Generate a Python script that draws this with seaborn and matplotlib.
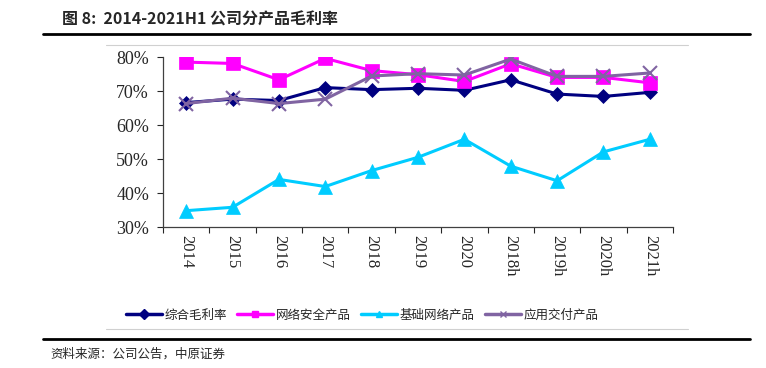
import numpy as np
import pandas as pd
import matplotlib
matplotlib.use("Agg")
import matplotlib.pyplot as plt
import seaborn as sns
from matplotlib.lines import Line2D

# data
periods = ["2014", "2015", "2016", "2017", "2018", "2019", "2020",
           "2018h", "2019h", "2020h", "2021h"]
overall = [66.6, 67.6, 67.2, 71.0, 70.4, 70.8, 70.2, 73.3, 69.1, 68.4, 69.6]
security = [78.5, 78.1, 73.3, 79.6, 76.0, 74.8, 72.8, 78.0, 74.0, 74.0, 72.4]
network = [34.8, 35.8, 44.0, 41.9, 46.6, 50.5, 55.8, 47.9, 43.6, 52.1, 55.8]
delivery = [66.3, 67.9, 66.3, 67.6, 74.4, 75.1, 74.7, 79.4, 74.3, 74.3, 75.3]

names = ["综合毛利率", "网络安全产品", "基础网络产品", "应用交付产品"]
series = [overall, security, network, delivery]

df = pd.DataFrame({
    "x": np.tile(np.arange(len(periods)), len(names)),
    "value": np.concatenate(series) / 100,
    "name": np.repeat(names, len(periods)),
})

colors = {"综合毛利率": "#000080", "网络安全产品": "#FF00FF",
          "基础网络产品": "#00CCFF", "应用交付产品": "#8064A2"}
markers = {"综合毛利率": "D", "网络安全产品": "s",
           "基础网络产品": "^", "应用交付产品": "x"}
msizes = {"综合毛利率": 7, "网络安全产品": 10, "基础网络产品": 10, "应用交付产品": 10}

sns.set_theme(style="white")
plt.rcParams["font.family"] = ["Noto Sans CJK SC", "DejaVu Sans"]

fig = plt.figure(figsize=(7.66, 3.68), dpi=100)
ax = fig.add_axes([163 / 766, 1 - 227 / 368, 510 / 766, 170 / 368])

for name in names:
    sub = df[df["name"] == name]
    sns.lineplot(data=sub, x="x", y="value", color=colors[name], marker=markers[name],
                 markersize=msizes[name], markeredgecolor=colors[name],
                 markeredgewidth=1.5 if name == "应用交付产品" else 0.5,
                 linewidth=2.2, ax=ax, legend=False)

ax.set_xlim(-0.5, len(periods) - 0.5)
ax.set_ylim(0.3, 0.8)
ax.set_yticks([0.3, 0.4, 0.5, 0.6, 0.7, 0.8])
ax.set_yticklabels([f"{v}%" for v in range(30, 90, 10)],
                   fontfamily="Liberation Serif", fontsize=13)
ax.set_xticks(np.arange(len(periods)))
ax.set_xticklabels(periods, rotation=-90, fontfamily="Liberation Serif", fontsize=12)
ax.set_xticks(np.arange(len(periods) + 1) - 0.5, minor=True)
ax.tick_params(axis="x", which="major", length=0, pad=6)
ax.tick_params(axis="x", which="minor", length=4, width=0.8, direction="out", bottom=True)
ax.tick_params(axis="y", length=4, width=0.8, direction="out", left=True, pad=6)
ax.set_xlabel("")
ax.set_ylabel("")
for s in ["top", "right"]:
    ax.spines[s].set_visible(False)
for s in ["left", "bottom"]:
    ax.spines[s].set_color("#404040")
    ax.spines[s].set_linewidth(0.9)

# legend
handles = [Line2D([], [], color=colors[n], marker=markers[n], linewidth=2.5,
                  markersize=5, markeredgecolor=colors[n]) for n in names]
fig.legend(handles, names, loc="center", bbox_to_anchor=(362 / 766, 1 - 315 / 368),
           ncol=4, frameon=False, fontsize=9, handlelength=2.9, handletextpad=0.2,
           columnspacing=0.8)

# title, rules and source
fig.text(62 / 766, 1 - 20 / 368, "图 8:  2014-2021H1 公司分产品毛利率",
         fontsize=11.5, fontweight="bold", va="center", ha="left")
fig.add_artist(Line2D([43 / 766, 750 / 766], [1 - 34 / 368] * 2, color="black", linewidth=2))
fig.add_artist(Line2D([106 / 766, 688 / 766], [1 - 45 / 368] * 2, color="#d0d0d0", linewidth=0.8))
fig.add_artist(Line2D([106 / 766, 688 / 766], [1 - 329 / 368] * 2, color="#d0d0d0", linewidth=0.8))
fig.add_artist(Line2D([43 / 766, 750 / 766], [1 - 339 / 368] * 2, color="black", linewidth=2))
fig.text(50 / 766, 1 - 354 / 368, "资料来源：公司公告，中原证券",
         fontsize=9, va="center", ha="left")

fig.savefig("out.png", dpi=100)
